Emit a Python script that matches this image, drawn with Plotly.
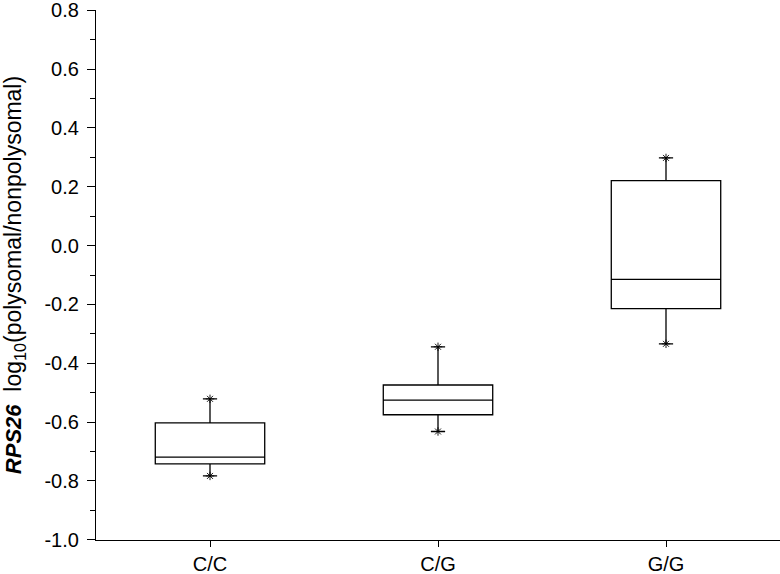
import plotly.graph_objects as go

# genotype groups and box statistics
genotypes = ["C/C", "C/G", "G/G"]
q1 = [-0.742, -0.575, -0.214]
medians = [-0.719, -0.525, -0.115]
q3 = [-0.603, -0.474, 0.221]
lows = [-0.783, -0.632, -0.334]
highs = [-0.521, -0.344, 0.298]

y_ticks = [-1.0, -0.8, -0.6, -0.4, -0.2, 0.0, 0.2, 0.4, 0.6, 0.8]

font_family = "Liberation Sans, Arial, sans-serif"

fig = go.Figure()

for i, g in enumerate(genotypes):
    fig.add_trace(go.Box(
        x=[g],
        q1=[q1[i]],
        median=[medians[i]],
        q3=[q3[i]],
        lowerfence=[lows[i]],
        upperfence=[highs[i]],
        width=0.48,
        whiskerwidth=0.13,
        fillcolor="rgba(0,0,0,0)",
        line=dict(color="black", width=1.3),
        hoverinfo="skip",
        showlegend=False,
    ))

# min / max stars
fig.add_trace(go.Scatter(
    x=genotypes + genotypes,
    y=lows + highs,
    mode="markers",
    marker=dict(symbol="asterisk-open", size=7, color="black",
                line=dict(color="black", width=0.9)),
    hoverinfo="skip",
    showlegend=False,
))

fig.update_layout(
    width=780,
    height=574,
    margin=dict(l=96, r=0, t=10, b=34),
    paper_bgcolor="white",
    plot_bgcolor="white",
    font=dict(family=font_family, color="black", size=20),
    xaxis=dict(
        type="category",
        range=[-0.5, 2.5],
        automargin=False,
        showline=True,
        linecolor="black",
        linewidth=1.3,
        ticks="outside",
        ticklen=6,
        tickcolor="black",
        showgrid=False,
        zeroline=False,
        tickfont=dict(size=20),
    ),
    yaxis=dict(
        range=[-1.0008, 0.8008],
        automargin=False,
        tickvals=y_ticks,
        ticktext=[f"{v:.1f}" for v in y_ticks],
        ticklabeloverflow="allow",
        showline=True,
        linecolor="black",
        linewidth=1.3,
        ticks="outside",
        ticklen=8,
        tickcolor="black",
        ticklabelstandoff=4,
        showgrid=False,
        zeroline=False,
        minor=dict(dtick=0.1, tick0=0, ticks="outside", ticklen=5, tickcolor="black"),
        tickfont=dict(size=20),
        title=dict(
            text="<span style='font-size:22px'><b><i>RPS26</i></b></span>"
                 "&nbsp;&nbsp;log<sub>10</sub>(polysomal/nonpolysomal)",
            font=dict(size=23),
            standoff=24,
        ),
    ),
)

# drop the page's default body margin so the figure sits at the window corner
fig.write_html("out.html", config={"displayModeBar": False},
               post_script="document.body.style.margin='0';")
